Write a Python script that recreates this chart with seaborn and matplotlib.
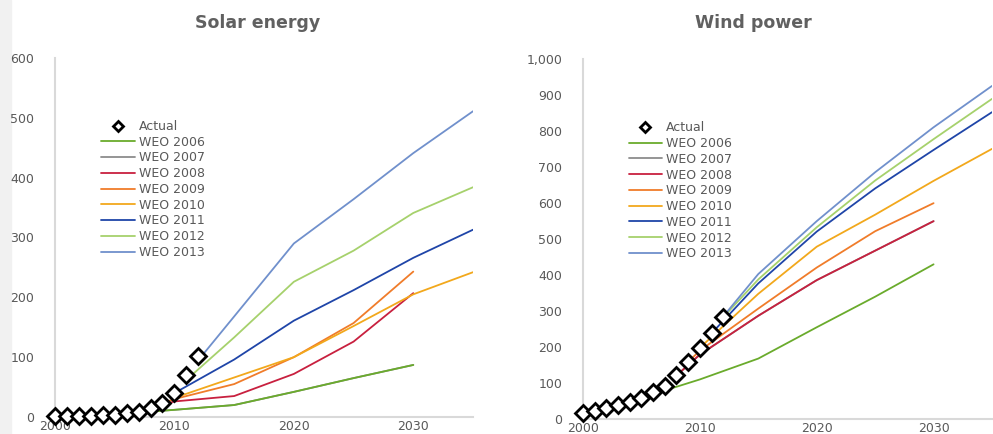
import matplotlib
matplotlib.use("Agg")
import matplotlib.pyplot as plt
from matplotlib.patches import Rectangle
from matplotlib.ticker import FuncFormatter
import seaborn as sns
import pandas as pd

# data (GW of installed capacity)
actual_years = list(range(2000, 2013))
solar_actual = [1, 1, 1, 2, 3, 4, 6, 9, 15, 23, 40, 71, 102]
wind_actual = [18, 23, 30, 39, 48, 59, 75, 92, 121, 159, 198, 238, 283]

weo_labels = ["WEO 2006", "WEO 2007", "WEO 2008", "WEO 2009",
              "WEO 2010", "WEO 2011", "WEO 2012", "WEO 2013"]
weo_colors = ["#6aab2c", "#8c8c8c", "#c8203f", "#f07c2a",
              "#f2a81c", "#1f45a8", "#a6d16c", "#7090cc"]

solar_years = [
    [2006, 2010, 2015, 2020, 2025, 2030],
    [2006, 2010, 2015, 2020, 2025, 2030],
    [2008, 2010, 2015, 2020, 2025, 2030],
    [2009, 2010, 2015, 2020, 2025, 2030],
    [2010, 2015, 2020, 2025, 2030, 2035],
    [2010, 2015, 2020, 2025, 2030, 2035],
    [2011, 2015, 2020, 2025, 2030, 2035],
    [2012, 2015, 2020, 2025, 2030, 2035],
]
solar_values = [
    [6, 12, 20, 42, 65, 87],
    [6, 12, 20, 42, 65, 87],
    [15, 26, 35, 72, 126, 207],
    [23, 30, 55, 100, 157, 243],
    [32, 66, 100, 152, 205, 242],
    [40, 96, 161, 212, 266, 313],
    [62, 133, 226, 278, 341, 384],
    [95, 168, 290, 364, 441, 511],
]

wind_years = [
    [2004, 2005, 2010, 2015, 2020, 2025, 2030],
    [2008, 2010, 2015, 2020, 2025, 2030],
    [2008, 2010, 2015, 2020, 2025, 2030],
    [2009, 2010, 2015, 2020, 2025, 2030],
    [2010, 2015, 2020, 2025, 2030, 2035],
    [2011, 2015, 2020, 2025, 2030, 2035],
    [2012, 2015, 2020, 2025, 2030, 2035],
    [2012, 2015, 2020, 2025, 2030, 2035],
]
wind_values = [
    [48, 59, 110, 168, 255, 340, 430],
    [121, 179, 287, 386, 468, 550],
    [121, 179, 287, 386, 468, 550],
    [159, 190, 307, 421, 522, 600],
    [198, 348, 479, 568, 662, 751],
    [238, 377, 521, 641, 748, 853],
    [283, 388, 533, 663, 778, 890],
    [285, 403, 550, 686, 811, 926],
]

sns.set_style("white")
plt.rcParams["font.family"] = ["DejaVu Sans"]

fig = plt.figure(figsize=(9.93, 4.34), dpi=100)
fig.patch.set_facecolor("white")
fig.add_artist(Rectangle((0, 0), 11 / 993, 1, transform=fig.transFigure,
                         color="#f1f1f1", zorder=-5))

ax1 = fig.add_axes([55 / 993, 17 / 434, 418 / 993, 359 / 434])
ax2 = fig.add_axes([583 / 993, 15 / 434, 409 / 993, 359.7 / 434])

grey = "#595959"


def draw(ax, years, values, actual, ymax, title_x, title):
    for yrs, vals, lab, col in zip(years, values, weo_labels, weo_colors):
        df = pd.DataFrame({"year": yrs, "value": vals})
        # the 2007 outlook sits under the others in the original
        z = 1 if lab == "WEO 2007" else 2
        sns.lineplot(data=df, x="year", y="value", ax=ax, color=col,
                     linewidth=1.3, label=lab, zorder=z)
    ax.plot(actual_years, actual, linestyle="none", marker="D", ms=8,
            mfc="white", mec="black", mew=2, label="Actual", zorder=6,
            clip_on=False)

    ax.set_xlim(2000, 2035)
    ax.set_ylim(0, ymax)
    ax.set_xticks([2000, 2010, 2020, 2030])
    ax.set_yticks(range(0, ymax + 1, 100))
    ax.yaxis.set_major_formatter(FuncFormatter(lambda v, p: f"{int(v):,}"))
    ax.set_xlabel("")
    ax.set_ylabel("")
    ax.tick_params(axis="both", length=0, labelsize=9, labelcolor=grey)
    ax.tick_params(axis="y", pad=15)
    ax.tick_params(axis="x", pad=2)
    sns.despine(ax=ax)
    for s in ["left", "bottom"]:
        ax.spines[s].set_color("#d9d9d9")
        ax.spines[s].set_linewidth(1.5)

    handles, labels = ax.get_legend_handles_labels()
    order = [labels.index("Actual")] + [labels.index(l) for l in weo_labels]
    leg = ax.legend([handles[i] for i in order], [labels[i] for i in order],
                    loc="upper left", bbox_to_anchor=(0.096, 0.845),
                    frameon=False, fontsize=9, handlelength=2.7,
                    handletextpad=0.3, labelspacing=0.22, borderpad=0,
                    markerscale=0.6)
    for t in leg.get_texts():
        t.set_color(grey)

    fig.text(title_x / 993, 1 - 23 / 434, title, ha="center", va="center",
             fontsize=12.5, fontweight="bold", color="#606060")


draw(ax1, solar_years, solar_values, solar_actual, 600, 258, "Solar energy")
draw(ax2, wind_years, wind_values, wind_actual, 1000, 753, "Wind power")

plt.savefig("out.png", dpi=100)
plt.close()
